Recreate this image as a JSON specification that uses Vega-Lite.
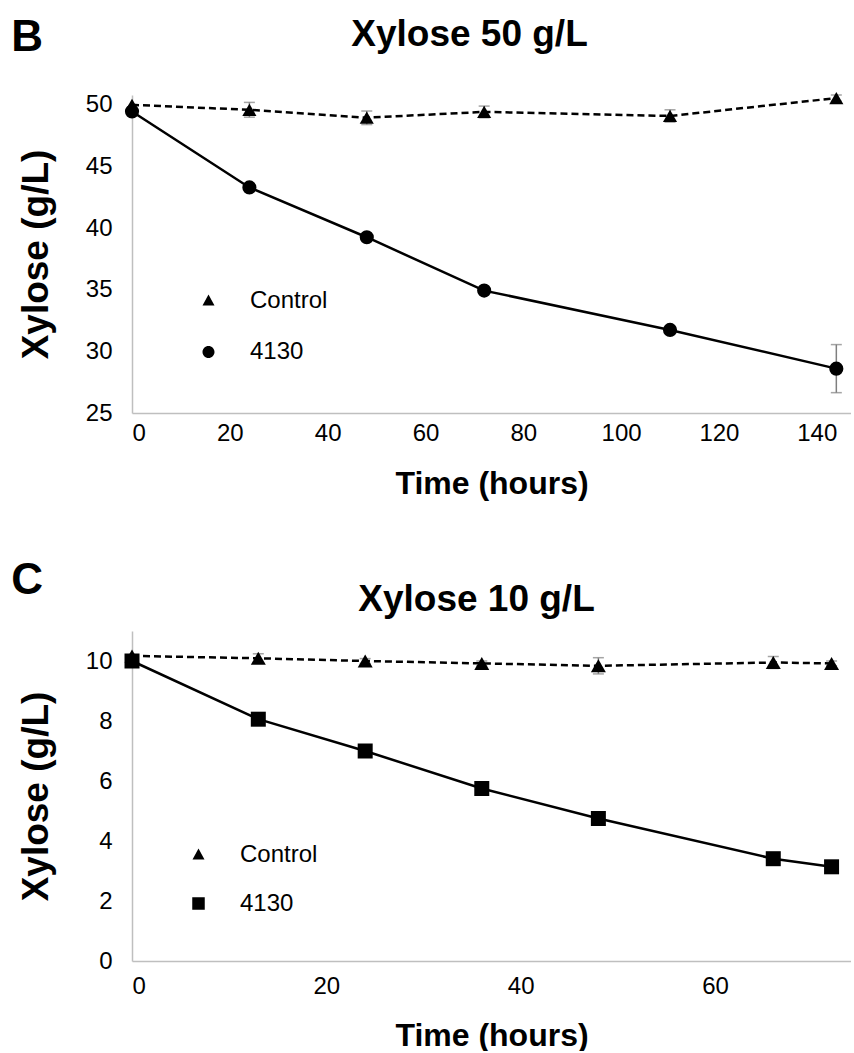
{
  "$schema": "https://vega.github.io/schema/vega-lite/v6.json",
  "padding": {"left": 11, "top": 15, "right": 0, "bottom": 0},
  "config": {
    "view": {"stroke": null},
    "font": "Liberation Sans",
    "axis": {"domainColor": "#bfbfbf", "domainWidth": 1.5, "ticks": false, "grid": false, "labelFontSize": 24, "labelColor": "#000000", "labelFont": "Liberation Sans", "titleFont": "Liberation Sans", "titleFontWeight": "bold", "titleColor": "#000000"},
    "axisX": {"labelPadding": 13, "titleFontSize": 32, "titlePadding": 23},
    "axisY": {"labelPadding": 20, "titleFontSize": 37, "titlePadding": 30},
    "legend": {"symbolSize": 2500, "symbolStrokeWidth": 2.5, "symbolStrokeColor": "#000000", "symbolFillColor": "#000000", "symbolOpacity": 1, "labelFontSize": 24, "labelFont": "Liberation Sans", "labelColor": "#000000", "labelOffset": 15, "padding": 0},
    "title": {"font": "Liberation Sans", "fontWeight": "bold", "color": "#000000"}
  },
  "datasets": {
    "b": [
      {"t": 0, "v": 50.0, "lo": null, "hi": null, "series": "Control"},
      {"t": 24, "v": 49.6, "lo": 49.0, "hi": 50.2, "series": "Control"},
      {"t": 48, "v": 48.96, "lo": 48.4, "hi": 49.5, "series": "Control"},
      {"t": 72, "v": 49.43, "lo": 48.95, "hi": 49.9, "series": "Control"},
      {"t": 110, "v": 49.1, "lo": 48.6, "hi": 49.6, "series": "Control"},
      {"t": 144, "v": 50.55, "lo": 50.3, "hi": 50.8, "series": "Control"},
      {"t": 0, "v": 49.46, "lo": null, "hi": null, "series": "4130"},
      {"t": 24, "v": 43.3, "lo": null, "hi": null, "series": "4130"},
      {"t": 48, "v": 39.26, "lo": null, "hi": null, "series": "4130"},
      {"t": 72, "v": 34.93, "lo": null, "hi": null, "series": "4130"},
      {"t": 110, "v": 31.74, "lo": null, "hi": null, "series": "4130"},
      {"t": 144, "v": 28.6, "lo": 26.65, "hi": 30.55, "series": "4130"}
    ],
    "c": [
      {"t": 0, "v": 10.17, "lo": null, "hi": null, "series": "Control"},
      {"t": 13, "v": 10.09, "lo": 9.94, "hi": 10.24, "series": "Control"},
      {"t": 24, "v": 10.0, "lo": 9.92, "hi": 10.08, "series": "Control"},
      {"t": 36, "v": 9.92, "lo": 9.84, "hi": 10.0, "series": "Control"},
      {"t": 48, "v": 9.84, "lo": 9.57, "hi": 10.11, "series": "Control"},
      {"t": 66, "v": 9.95, "lo": 9.75, "hi": 10.15, "series": "Control"},
      {"t": 72, "v": 9.92, "lo": 9.84, "hi": 10.0, "series": "Control"},
      {"t": 0, "v": 10.0, "lo": null, "hi": null, "series": "4130"},
      {"t": 13, "v": 8.06, "lo": null, "hi": null, "series": "4130"},
      {"t": 24, "v": 7.0, "lo": null, "hi": null, "series": "4130"},
      {"t": 36, "v": 5.75, "lo": null, "hi": null, "series": "4130"},
      {"t": 48, "v": 4.75, "lo": null, "hi": null, "series": "4130"},
      {"t": 66, "v": 3.41, "lo": null, "hi": null, "series": "4130"},
      {"t": 72, "v": 3.14, "lo": null, "hi": null, "series": "4130"}
    ]
  },
  "spacing": 60,
  "resolve": {"scale": {"shape": "independent", "x": "independent", "y": "independent"}, "legend": {"shape": "independent"}},
  "vconcat": [
    {
      "title": {"text": "B", "anchor": "start", "frame": "bounds", "fontSize": 44, "offset": 0, "dx": -6, "dy": 44},
      "resolve": {"scale": {"shape": "independent"}, "legend": {"shape": "independent"}},
      "vconcat": [
        {
          "title": {"text": "Xylose 50 g/L", "anchor": "middle", "frame": "group", "fontSize": 37, "offset": -6, "dx": -22, "dy": -44},
          "width": 719,
          "height": 318,
          "data": {"name": "b"},
          "layer": [
            {
              "transform": [{"filter": "datum.series === 'Control'"}],
              "mark": {"type": "line", "color": "#000000", "strokeWidth": 2.5, "strokeDash": [7, 4]},
              "encoding": {
                "x": {"field": "t", "type": "quantitative", "title": "Time (hours)", "scale": {"domain": [0, 147], "nice": false}, "axis": {"values": [0, 20, 40, 60, 80, 100, 120, 140], "labelPadding": 8}},
                "y": {"field": "v", "type": "quantitative", "title": "Xylose (g/L)", "scale": {"domain": [25, 50.8], "nice": false, "zero": false}, "axis": {"values": [25, 30, 35, 40, 45, 50]}}
              }
            },
            {
              "transform": [{"filter": "datum.series === '4130'"}],
              "mark": {"type": "line", "color": "#000000", "strokeWidth": 2.5},
              "encoding": {
                "x": {"field": "t", "type": "quantitative", "title": "Time (hours)"},
                "y": {"field": "v", "type": "quantitative", "title": "Xylose (g/L)"}
              }
            },
            {
              "transform": [{"filter": "datum.lo != null"}],
              "mark": {"type": "errorbar", "color": "#7f7f7f", "thickness": 1.5, "ticks": {"size": 11}},
              "encoding": {
                "x": {"field": "t", "type": "quantitative", "title": "Time (hours)"},
                "y": {"field": "lo", "type": "quantitative", "title": "Xylose (g/L)"},
                "y2": {"field": "hi"}
              }
            },
            {
              "transform": [{"filter": "datum.series === 'Control'"}],
              "mark": {"type": "point", "shape": "triangle-up", "filled": true, "opacity": 1, "color": "#000000", "size": 200},
              "encoding": {
                "x": {"field": "t", "type": "quantitative", "title": "Time (hours)"},
                "y": {"field": "v", "type": "quantitative", "title": "Xylose (g/L)"}
              }
            },
            {
              "transform": [{"filter": "datum.series === '4130'"}],
              "mark": {"type": "point", "shape": "circle", "filled": true, "opacity": 1, "color": "#000000", "size": 200},
              "encoding": {
                "x": {"field": "t", "type": "quantitative", "title": "Time (hours)"},
                "y": {"field": "v", "type": "quantitative", "title": "Xylose (g/L)"}
              }
            },
            {
              "transform": [{"filter": "datum.series === 'none'"}],
              "mark": {"type": "point", "filled": true, "color": "#000000", "fill": "#000000", "stroke": "#000000", "strokeWidth": 2.5},
              "encoding": {
                "x": {"field": "t", "type": "quantitative", "title": "Time (hours)"},
                "y": {"field": "v", "type": "quantitative", "title": "Xylose (g/L)"},
                "shape": {
                  "field": "series", "type": "nominal",
                  "scale": {"domain": ["Control", "4130"], "range": ["M-1.4,0H-1.14M-1,0H-0.74M-0.6,0H-0.34M0.34,0H0.6M0.74,0H1M1.14,0H1.4M0,-0.24L0.24,0.2L-0.24,0.2ZM0,-0.7L0,-0.7M0,0.7L0,0.7", "M-1.4,0H1.4M-0.24,0A0.24,0.24,0,1,1,0.24,0A0.24,0.24,0,1,1,-0.24,0ZM0,-0.7L0,-0.7M0,0.7L0,0.7"]},
                  "legend": {"orient": "none", "legendX": 50, "legendY": 179, "title": null, "rowPadding": 2.5, "symbolOpacity": 1, "symbolStrokeColor": "#000000", "symbolStrokeWidth": 2.5}
                }
              }
            }
          ]
        }
      ]
    },
    {
      "title": {"text": "C", "anchor": "start", "frame": "bounds", "fontSize": 44, "offset": 0, "dx": -6, "dy": 22},
      "resolve": {"scale": {"shape": "independent"}, "legend": {"shape": "independent"}},
      "vconcat": [
        {
          "title": {"text": "Xylose 10 g/L", "anchor": "middle", "frame": "group", "fontSize": 37, "offset": 0, "dx": -15, "dy": -12},
          "width": 719,
          "height": 330,
          "data": {"name": "c"},
          "layer": [
            {
              "transform": [{"filter": "datum.series === 'Control'"}],
              "mark": {"type": "line", "color": "#000000", "strokeWidth": 2.5, "strokeDash": [7, 4]},
              "encoding": {
                "x": {"field": "t", "type": "quantitative", "title": "Time (hours)", "scale": {"domain": [0, 74], "nice": false}, "axis": {"values": [0, 20, 40, 60], "titlePadding": 22}},
                "y": {"field": "v", "type": "quantitative", "title": "Xylose (g/L)", "scale": {"domain": [0, 11], "nice": false, "zero": false}, "axis": {"values": [0, 2, 4, 6, 8, 10]}}
              }
            },
            {
              "transform": [{"filter": "datum.series === '4130'"}],
              "mark": {"type": "line", "color": "#000000", "strokeWidth": 2.5},
              "encoding": {
                "x": {"field": "t", "type": "quantitative", "title": "Time (hours)"},
                "y": {"field": "v", "type": "quantitative", "title": "Xylose (g/L)"}
              }
            },
            {
              "transform": [{"filter": "datum.lo != null"}],
              "mark": {"type": "errorbar", "color": "#7f7f7f", "thickness": 1.5, "ticks": {"size": 11}},
              "encoding": {
                "x": {"field": "t", "type": "quantitative", "title": "Time (hours)"},
                "y": {"field": "lo", "type": "quantitative", "title": "Xylose (g/L)"},
                "y2": {"field": "hi"}
              }
            },
            {
              "transform": [{"filter": "datum.series === 'Control'"}],
              "mark": {"type": "point", "shape": "triangle-up", "filled": true, "opacity": 1, "color": "#000000", "size": 225},
              "encoding": {
                "x": {"field": "t", "type": "quantitative", "title": "Time (hours)"},
                "y": {"field": "v", "type": "quantitative", "title": "Xylose (g/L)"}
              }
            },
            {
              "transform": [{"filter": "datum.series === '4130'"}],
              "mark": {"type": "point", "shape": "square", "filled": true, "opacity": 1, "color": "#000000", "size": 225},
              "encoding": {
                "x": {"field": "t", "type": "quantitative", "title": "Time (hours)"},
                "y": {"field": "v", "type": "quantitative", "title": "Xylose (g/L)"}
              }
            },
            {
              "transform": [{"filter": "datum.series === 'none'"}],
              "mark": {"type": "point", "filled": true, "color": "#000000", "fill": "#000000", "stroke": "#000000", "strokeWidth": 2.5},
              "encoding": {
                "x": {"field": "t", "type": "quantitative", "title": "Time (hours)"},
                "y": {"field": "v", "type": "quantitative", "title": "Xylose (g/L)"},
                "shape": {
                  "field": "series", "type": "nominal",
                  "scale": {"domain": ["Control", "4130"], "range": ["M-1.4,0H-1.14M-1,0H-0.74M-0.6,0H-0.34M0.34,0H0.6M0.74,0H1M1.14,0H1.4M0,-0.24L0.24,0.2L-0.24,0.2ZM0,-0.7L0,-0.7M0,0.7L0,0.7", "M-1.4,0H1.4M-0.25,-0.25H0.25V0.25H-0.25ZM0,-0.7L0,-0.7M0,0.7L0,0.7"]},
                  "legend": {"orient": "none", "legendX": 40, "legendY": 197, "title": null, "rowPadding": 0, "symbolOpacity": 1, "symbolStrokeColor": "#000000", "symbolStrokeWidth": 2.5}
                }
              }
            }
          ]
        }
      ]
    }
  ]
}
